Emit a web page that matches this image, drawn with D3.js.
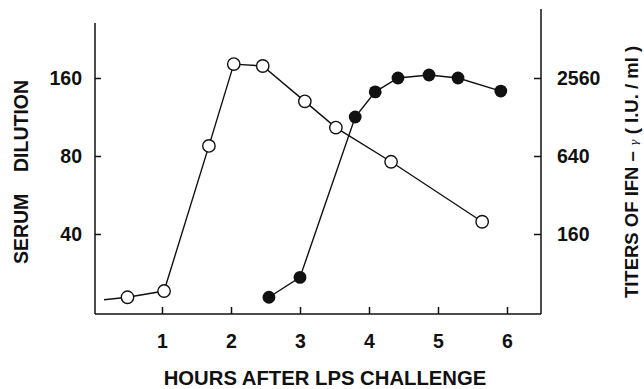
<!DOCTYPE html>
<html lang="en">
<head>
	<meta charset="utf-8">
	<title>Serum dilution and IFN-gamma titers after LPS challenge</title>
	<script src="https://d3js.org/d3.v7.min.js" charset="utf-8"></script>
	<style>
		body {
		    margin: 0;
		    background: #fff;
		    font-family: "Liberation Sans", Arial, Helvetica, sans-serif;
		}
		svg text {
		    font-weight: bold;
		    fill: #111;
		}
		.frame {
		    stroke: #111;
		    stroke-width: 1.5;
		}
		.tick line {
		    stroke: #111;
		    stroke-width: 1.5;
		}
		.series {
		    fill: none;
		    stroke: #111;
		    stroke-width: 1.4;
		}
	</style>
</head>
<body>
	<script>
		// Data
		// open circles: serum dilution (left axis); first point is the unmarked lead-in of the line
		var openHours  = [0.16, 0.5, 1.03, 1.68, 2.04, 2.46, 3.07, 3.52, 4.32, 5.64];
		var openDilution = [22.3, 22.8, 24.1, 87.5, 181, 178, 130, 103, 76, 44.6];
		// filled circles: IFN-gamma titer (right axis)
		var filledHours = [2.55, 3.0, 3.8, 4.09, 4.42, 4.87, 5.29, 5.91];
		var filledTiter = [52, 74, 1280, 2000, 2560, 2700, 2560, 2030];

		var hourTicks = [1, 2, 3, 4, 5, 6];
		var dilutionTicks = [40, 80, 160];
		var titerTicks = [160, 640, 2560];

		var width = 644;
		var height = 389;

		// plot frame
		var left = 95, right = 541, bottom = 314, leftTop = 23, rightTop = 9;

		var svg = d3.select("body")
		    .append("svg")
		    .attr("width", width)
		    .attr("height", height);

		var x = d3.scaleLinear()
		    .domain([0, 6])
		    .range([93, 507]);

		var yLeft = d3.scaleLog().base(2)
		    .domain([40, 160])
		    .range([234, 78]);

		var yRight = d3.scaleLog().base(4)
		    .domain([160, 2560])
		    .range([234, 78]);

		// frame lines
		svg.append("line").attr("class", "frame")
		    .attr("x1", left).attr("x2", left).attr("y1", leftTop).attr("y2", bottom);
		svg.append("line").attr("class", "frame")
		    .attr("x1", left).attr("x2", right).attr("y1", bottom).attr("y2", bottom);
		svg.append("line").attr("class", "frame")
		    .attr("x1", right).attr("x2", right).attr("y1", rightTop).attr("y2", bottom);

		// axes (ticks point inward)
		var gx = svg.append("g")
		    .attr("transform", "translate(0," + bottom + ")")
		    .call(d3.axisBottom(x).tickValues(hourTicks).tickFormat(d3.format("d"))
		        .tickSizeInner(-7).tickSizeOuter(0).tickPadding(20));

		var gl = svg.append("g")
		    .attr("transform", "translate(" + left + ",0)")
		    .call(d3.axisLeft(yLeft).tickValues(dilutionTicks).tickFormat(d3.format("d"))
		        .tickSizeInner(-6).tickSizeOuter(0).tickPadding(13));

		var gr = svg.append("g")
		    .attr("transform", "translate(" + right + ",0)")
		    .call(d3.axisRight(yRight).tickValues(titerTicks).tickFormat(d3.format("d"))
		        .tickSizeInner(-7).tickSizeOuter(0).tickPadding(16));

		[gx, gl, gr].forEach(function(g) {
			g.select(".domain").remove();
			g.selectAll("text")
			    .attr("font-family", "'Liberation Sans', Arial, sans-serif")
			    .attr("font-size", 19.5);
		});

		// lines
		var openData = openHours.map(function(h, i) { return [h, openDilution[i]]; });
		var filledData = filledHours.map(function(h, i) { return [h, filledTiter[i]]; });

		svg.append("path")
		    .datum(openData)
		    .attr("class", "series")
		    .attr("d", d3.line()
		        .x(function(d) { return x(d[0]); })
		        .y(function(d) { return yLeft(d[1]); }));

		svg.append("path")
		    .datum(filledData)
		    .attr("class", "series")
		    .attr("d", d3.line()
		        .x(function(d) { return x(d[0]); })
		        .y(function(d) { return yRight(d[1]); }));

		// markers
		svg.selectAll("circle.open")
		    .data(openData.slice(1))
		    .enter()
		    .append("circle")
		    .attr("class", "open")
		    .attr("cx", function(d) { return x(d[0]); })
		    .attr("cy", function(d) { return yLeft(d[1]); })
		    .attr("r", 6.2)
		    .attr("fill", "#fff")
		    .attr("stroke", "#111")
		    .attr("stroke-width", 1.4);

		svg.selectAll("circle.filled")
		    .data(filledData)
		    .enter()
		    .append("circle")
		    .attr("class", "filled")
		    .attr("cx", function(d) { return x(d[0]); })
		    .attr("cy", function(d) { return yRight(d[1]); })
		    .attr("r", 6.4)
		    .attr("fill", "#111");

		// axis titles
		svg.append("text")
		    .attr("x", 325)
		    .attr("y", 385)
		    .attr("text-anchor", "middle")
		    .attr("font-size", 20.3)
		    .text("HOURS AFTER LPS CHALLENGE");

		svg.append("text")
		    .attr("transform", "translate(28,172) rotate(-90)")
		    .attr("text-anchor", "middle")
		    .attr("font-size", 19.5)
		    .style("white-space", "pre")
		    .text("SERUM    DILUTION");

		var rt = svg.append("text")
		    .attr("transform", "translate(638,172) rotate(-90)")
		    .attr("text-anchor", "middle")
		    .attr("font-size", 18.5)
		    .style("white-space", "pre");
		rt.append("tspan").text("TITERS OF IFN \u2013 ");
		rt.append("tspan").attr("font-size", 11).attr("font-weight", "normal")
		    .attr("font-family", "'DejaVu Serif', serif").attr("font-style", "italic").text("\u03b3");
		rt.append("tspan").text(" ( I.U. / ml )");
	</script>
</body>
</html>
